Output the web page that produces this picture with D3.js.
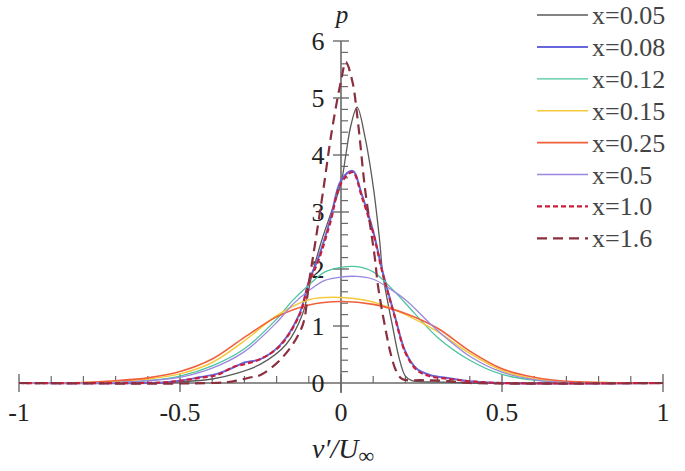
<!DOCTYPE html>
<html lang="en">
<head>
  <meta charset="UTF-8" />
  <title>PDF of v'</title>
  <style>
    body { margin: 0; background: #fff; }
    svg { display: block; }
    text { font-family: "Liberation Serif", "Times New Roman", Tinos, Times, serif; fill: #222; }
  </style>
</head>
<body>
  <div id="chart"></div>

  <script src="https://d3js.org/d3.v7.min.js"></script>
  <script>
    // series names, shown in the legend
    const seriesNames = ["x=0.05", "x=0.08", "x=0.12", "x=0.15", "x=0.25", "x=0.5", "x=1.0", "x=1.6"];

    // x=0.05
    const v005 = [-1, -0.6, -0.5, -0.4, -0.33, -0.25, -0.17, -0.12, -0.09, -0.06, -0.03, 0, 0.015, 0.03, 0.05, 0.075, 0.1, 0.12, 0.13, 0.16, 0.18, 0.2, 0.22, 0.3, 0.4, 1];
    const p005 = [0, 0, 0.02, 0.07, 0.16, 0.33, 0.68, 1.2, 1.9, 2.5, 3.0, 3.5, 4.0, 4.5, 4.84, 4.3, 3.45, 2.5, 1.9, 1.0, 0.45, 0.12, 0.04, 0.02, 0, 0];

    // x=0.08 and x=1.0 share the same v points
    const vNarrow = [-1, -0.55, -0.5, -0.44, -0.385, -0.335, -0.3, -0.25, -0.19, -0.13, -0.1, -0.07, -0.034, 0, 0.036, 0.065, 0.1, 0.127, 0.145, 0.167, 0.2, 0.235, 0.276, 0.34, 0.4, 0.5, 1];
    const p008 = [0, 0.01, 0.04, 0.1, 0.16, 0.27, 0.36, 0.42, 0.66, 1.2, 1.78, 2.2, 2.85, 3.55, 3.72, 3.3, 2.66, 2.0, 1.62, 1.18, 0.55, 0.25, 0.14, 0.08, 0.03, 0, 0];
    const p10 = [0, 0.01, 0.04, 0.09, 0.14, 0.28, 0.33, 0.42, 0.65, 1.18, 1.75, 2.15, 2.8, 3.5, 3.7, 3.26, 2.63, 1.98, 1.6, 1.16, 0.53, 0.23, 0.12, 0.07, 0.03, 0, 0];

    // x=0.12 and x=0.5
    const vMid = [-1, -0.7, -0.6, -0.5, -0.4, -0.3, -0.2, -0.15, -0.1, -0.05, 0, 0.05, 0.1, 0.15, 0.2, 0.3, 0.4, 0.5, 0.6, 0.7, 1];
    const p012 = [0, 0.01, 0.04, 0.12, 0.3, 0.6, 1.12, 1.45, 1.72, 1.95, 2.03, 2.04, 1.95, 1.7, 1.4, 0.8, 0.4, 0.15, 0.05, 0.01, 0];
    const p05 = [0, 0.01, 0.04, 0.1, 0.26, 0.55, 1.06, 1.38, 1.62, 1.8, 1.86, 1.87, 1.82, 1.66, 1.46, 0.92, 0.47, 0.19, 0.06, 0.01, 0];

    // x=0.15 and x=0.25
    const vWide = [-1, -0.8, -0.7, -0.6, -0.5, -0.4, -0.3, -0.2, -0.1, 0, 0.1, 0.2, 0.3, 0.4, 0.5, 0.6, 0.7, 0.8, 1];
    const p015 = [0, 0.01, 0.03, 0.07, 0.16, 0.36, 0.74, 1.18, 1.46, 1.5, 1.42, 1.2, 0.9, 0.52, 0.22, 0.07, 0.02, 0.01, 0];
    const p025 = [0, 0.01, 0.04, 0.09, 0.2, 0.42, 0.8, 1.16, 1.37, 1.43, 1.38, 1.22, 0.96, 0.56, 0.25, 0.1, 0.03, 0.01, 0];

    // x=1.6
    const v16 = [-1, -0.4, -0.335, -0.28, -0.25, -0.18, -0.12, -0.1, -0.08, -0.055, -0.028, 0, 0.015, 0.035, 0.053, 0.075, 0.105, 0.115, 0.137, 0.155, 0.17, 0.19, 0.25, 0.32, 0.4, 1];
    const p16 = [0, 0, 0.03, 0.1, 0.14, 0.46, 1.0, 1.75, 2.46, 3.39, 4.44, 5.3, 5.63, 5.3, 4.56, 3.39, 2.2, 1.7, 0.98, 0.5, 0.23, 0.07, 0.05, 0.04, 0, 0];

    const xTicks = [-1, -0.5, 0, 0.5, 1];
    const yTicks = [0, 1, 2, 3, 4, 5, 6];

    const W = 685, H = 471;

    const x = d3.scaleLinear().domain([-1, 1]).range([19, 663]);
    const y = d3.scaleLinear().domain([0, 6]).range([383, 41]);

    const svg = d3.select("#chart").append("svg")
      .attr("width", W)
      .attr("height", H);

    const axisColor = "#6a6a6a";

    // ---- x axis ----
    const gx = svg.append("g");
    gx.append("line")
      .attr("x1", x(-1)).attr("x2", x(1))
      .attr("y1", y(0)).attr("y2", y(0))
      .attr("stroke", axisColor).attr("stroke-width", 1.6);

    // minor ticks every 0.1, pointing up
    const xMinor = d3.range(-10, 11).map(i => i / 10).filter(v => Math.abs(v * 2 - Math.round(v * 2)) > 1e-9);
    gx.selectAll(".xminor").data(xMinor).enter().append("line")
      .attr("x1", d => x(d)).attr("x2", d => x(d))
      .attr("y1", y(0)).attr("y2", y(0) - 7)
      .attr("stroke", axisColor).attr("stroke-width", 1.2);

    gx.selectAll(".xmajor").data(xTicks).enter().append("line")
      .attr("x1", d => x(d)).attr("x2", d => x(d))
      .attr("y1", y(0) - 9).attr("y2", y(0) + 9)
      .attr("stroke", axisColor).attr("stroke-width", 1.4);

    gx.selectAll(".xlab").data(xTicks).enter().append("text")
      .attr("x", d => x(d))
      .attr("y", 421)
      .attr("text-anchor", "middle")
      .style("font-size", "26px")
      .text(d => d);

    // ---- y axis ----
    const gy = svg.append("g");
    gy.append("line")
      .attr("x1", x(0)).attr("x2", x(0))
      .attr("y1", y(0) + 10).attr("y2", y(6))
      .attr("stroke", axisColor).attr("stroke-width", 1.6);

    const yMinor = d3.range(0, 31).map(i => i / 5).filter(v => Math.abs(v - Math.round(v)) > 1e-9);
    gy.selectAll(".yminor").data(yMinor).enter().append("line")
      .attr("x1", x(0)).attr("x2", x(0) + 7)
      .attr("y1", d => y(d)).attr("y2", d => y(d))
      .attr("stroke", axisColor).attr("stroke-width", 1.2);

    gy.selectAll(".ymajor").data(yTicks.filter(d => d > 0)).enter().append("line")
      .attr("x1", x(0) - 8).attr("x2", x(0) + 8)
      .attr("y1", d => y(d)).attr("y2", d => y(d))
      .attr("stroke", axisColor).attr("stroke-width", 1.4);

    gy.selectAll(".ylab").data(yTicks).enter().append("text")
      .attr("x", 318)
      .attr("y", d => y(d) + 9)
      .attr("text-anchor", "middle")
      .style("font-size", "26px")
      .text(d => d);

    // axis titles
    svg.append("text")
      .attr("x", x(0) + 1).attr("y", 23)
      .attr("text-anchor", "middle")
      .style("font-size", "25px")
      .style("font-style", "italic")
      .text("p");

    const xt = svg.append("text")
      .attr("x", x(0) + 2).attr("y", 458)
      .attr("text-anchor", "middle")
      .style("font-size", "28px")
      .style("font-style", "italic");
    xt.append("tspan").text("v\u2032/U");
    xt.append("tspan").attr("dy", 5).style("font-size", "22px").style("font-style", "normal").text("\u221e");

    // ---- curves ----
    const series = [
      { name: seriesNames[0], v: v005,    p: p005, color: "#5a5a5a", width: 1.3, dash: null },
      { name: seriesNames[1], v: vNarrow, p: p008, color: "#6666dd", width: 2.0, dash: null },
      { name: seriesNames[2], v: vMid,    p: p012, color: "#4cc4a0", width: 1.3, dash: null },
      { name: seriesNames[3], v: vWide,   p: p015, color: "#f5c93c", width: 1.5, dash: null },
      { name: seriesNames[4], v: vWide,   p: p025, color: "#f0603a", width: 1.6, dash: null },
      { name: seriesNames[5], v: vMid,    p: p05,  color: "#9a88e0", width: 1.3, dash: null },
      { name: seriesNames[6], v: vNarrow, p: p10,  color: "#c8203c", width: 2.2, dash: "5,3" },
      { name: seriesNames[7], v: v16,     p: p16,  color: "#8a2f3e", width: 2.2, dash: "10,6" }
    ];

    const line = d3.line()
      .x(d => x(d[0]))
      .y(d => y(Math.max(0, d[1])))
      .curve(d3.curveCatmullRom.alpha(0.5));

    svg.append("g").selectAll("path").data(series).enter().append("path")
      .attr("d", s => line(s.v.map((v, i) => [v, s.p[i]])))
      .attr("fill", "none")
      .attr("stroke", s => s.color)
      .attr("stroke-width", s => s.width)
      .attr("stroke-dasharray", s => s.dash);

    // ---- legend ----
    const legend = svg.append("g").attr("transform", "translate(537,15)");
    const rows = legend.selectAll("g").data(series).enter().append("g")
      .attr("transform", (d, i) => `translate(0,${i * 31.9})`);

    rows.append("line")
      .attr("x1", 0).attr("x2", 51)
      .attr("y1", 0).attr("y2", 0)
      .attr("stroke", d => d.color)
      .attr("stroke-width", d => d.width)
      .attr("stroke-dasharray", d => d.dash);

    rows.append("text")
      .attr("x", 55).attr("y", 9)
      .style("font-size", "26px")
      .style("fill", "#444")
      .text(d => d.name);
  </script>
</body>
</html>
